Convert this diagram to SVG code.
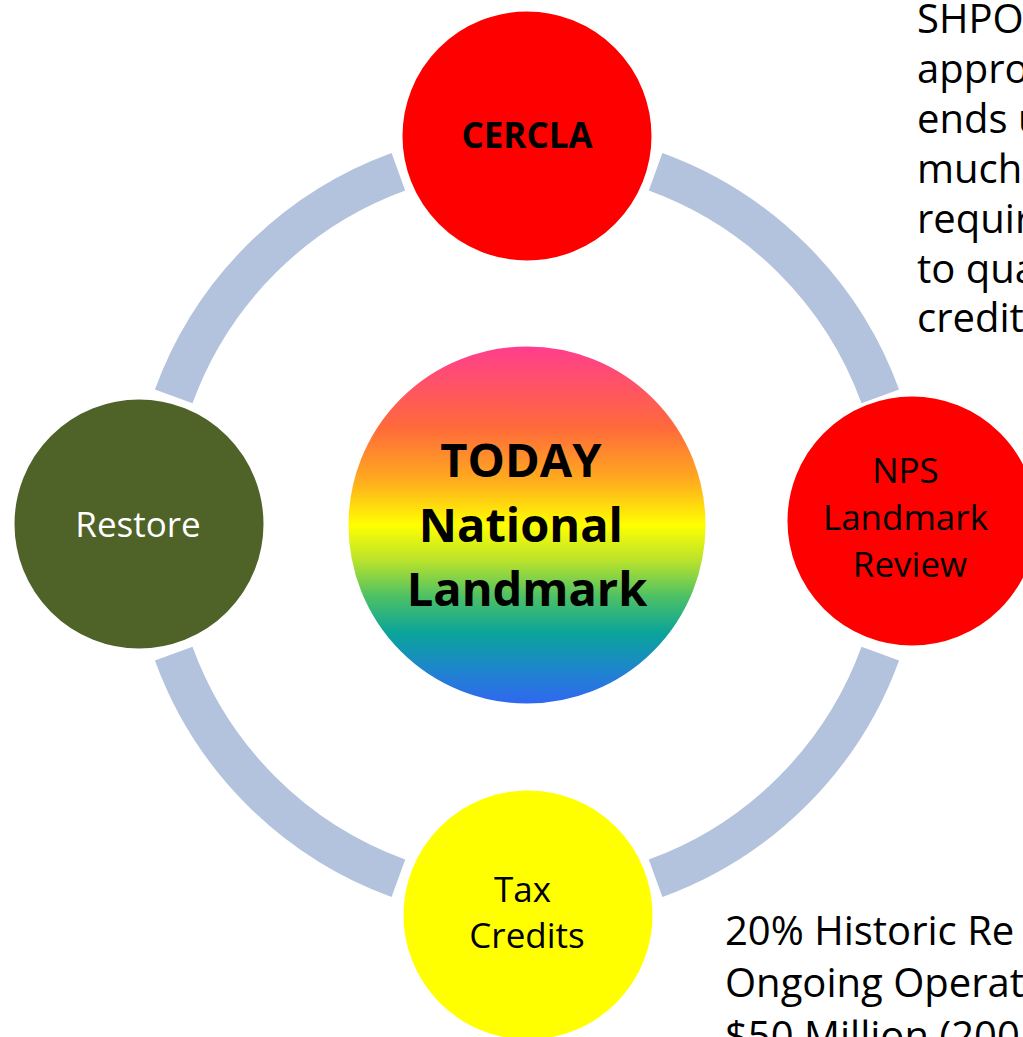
<svg xmlns="http://www.w3.org/2000/svg" width="1023" height="1037" viewBox="0 0 1023 1037">
  <defs>
    <linearGradient id="rainbow" x1="0" y1="0" x2="0" y2="1">
      <stop offset="0" stop-color="#ff3d8f"/>
      <stop offset="0.23" stop-color="#ff6a3a"/>
      <stop offset="0.38" stop-color="#ffad1e"/>
      <stop offset="0.5" stop-color="#ffff00"/>
      <stop offset="0.6" stop-color="#b8e22c"/>
      <stop offset="0.7" stop-color="#4cc066"/>
      <stop offset="0.8" stop-color="#0aa49a"/>
      <stop offset="0.9" stop-color="#1e86cc"/>
      <stop offset="1" stop-color="#3166f2"/>
    </linearGradient>
  </defs>
  <style>
    .arc { fill: none; stroke: #b3c3de; stroke-width: 40; stroke-linecap: butt; }
    .node { stroke: #ffffff; stroke-width: 3; }
    .lbl { font-family: "Open Sans", "Liberation Sans", sans-serif; text-anchor: middle; }
    .note { font-family: "Open Sans", "Liberation Sans", sans-serif; font-size: 40px; fill: #000000; }
  </style>
  <rect width="1023" height="1037" fill="#ffffff"/>

  <g id="connectors">
    <path class="arc" d="M 655.6 171.7 A 376 376 0 0 1 880.3 396.4"/>
    <path class="arc" d="M 880.3 653.6 A 376 376 0 0 1 655.6 878.3"/>
    <path class="arc" d="M 398.4 878.3 A 376 376 0 0 1 173.7 653.6"/>
    <path class="arc" d="M 173.7 396.4 A 376 376 0 0 1 398.4 171.7"/>
  </g>

  <g id="node-center">
    <circle cx="527" cy="525" r="180" fill="url(#rainbow)" class="node"/>
    <text class="lbl" font-size="47" font-weight="bold" fill="#000000">
      <tspan x="527" y="477">TODAY</tspan>
      <tspan x="527" y="542">National</tspan>
      <tspan x="527" y="606">Landmark</tspan>
    </text>
  </g>

  <g id="node-cercla">
    <circle cx="527" cy="136" r="126" fill="#ff0000" class="node"/>
    <text class="lbl" x="527" y="148" font-size="35" font-weight="bold" fill="#000000">CERCLA</text>
  </g>

  <g id="node-nps">
    <circle cx="912" cy="521" r="126" fill="#ff0000" class="node"/>
    <text class="lbl" font-size="35" fill="#000000">
      <tspan x="910" y="483">NPS</tspan>
      <tspan x="910" y="530">Landmark</tspan>
      <tspan x="910" y="577">Review</tspan>
    </text>
  </g>

  <g id="node-tax">
    <circle cx="528" cy="915" r="126" fill="#ffff00" class="node"/>
    <text class="lbl" font-size="35" fill="#000000">
      <tspan x="527" y="902">Tax</tspan>
      <tspan x="527" y="948">Credits</tspan>
    </text>
  </g>

  <g id="node-restore">
    <circle cx="139" cy="524" r="126" fill="#4f6228" class="node"/>
    <text class="lbl" x="138" y="537" font-size="35" fill="#ffffff">Restore</text>
  </g>

  <g id="note-top">
    <text class="note">
      <tspan x="917" y="33">SHPO</tspan>
      <tspan x="917" y="83">appro</tspan>
      <tspan x="917" y="133">ends u</tspan>
      <tspan x="917" y="183">much</tspan>
      <tspan x="917" y="233">requir</tspan>
      <tspan x="917" y="283">to qua</tspan>
      <tspan x="917" y="332">credit</tspan>
    </text>
  </g>

  <g id="note-bottom">
    <text class="note">
      <tspan x="725" y="945">20% Historic Re</tspan>
      <tspan x="725" y="997">Ongoing Operat</tspan>
      <tspan x="725" y="1050">$50 Million (200</tspan>
    </text>
  </g>
</svg>
